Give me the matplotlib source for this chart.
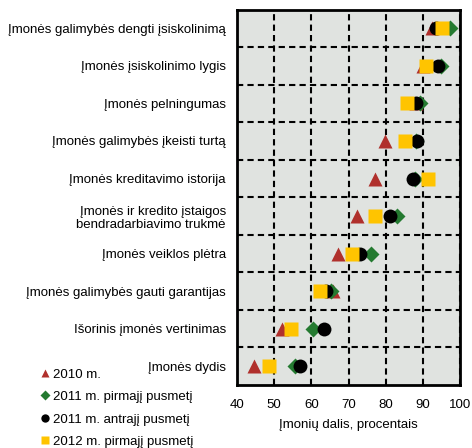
import numpy as np
import matplotlib
matplotlib.use('Agg')
import matplotlib.pyplot as plt

plt.rcParams['font.family'] = ['Liberation Sans', 'DejaVu Sans']

categories = [
    "Įmonės galimybės dengti įsiskolinimą",
    "Įmonės įsiskolinimo lygis",
    "Įmonės pelningumas",
    "Įmonės galimybės įkeisti turtą",
    "Įmonės kreditavimo istorija",
    "Įmonės ir kredito įstaigos\nbendradarbiavimo trukmė",
    "Įmonės veiklos plėtra",
    "Įmonės galimybės gauti garantijas",
    "Išorinis įmonės vertinimas",
    "Įmonės dydis",
]

y2010 = [92.5, 90.0, 88.0, 79.9, 77.1, 72.2, 67.2, 65.7, 52.1, 44.5]
y2011_h1 = [97.3, 94.8, 89.1, 88.0, 87.8, 83.1, 76.0, 65.4, 60.5, 55.7]
y2011_h2 = [93.5, 93.9, 88.1, 88.3, 87.2, 81.0, 73.1, 64.0, 63.3, 57.0]
y2012_h1 = [95.1, 90.8, 85.7, 85.1, 91.3, 77.0, 70.9, 62.4, 54.4, 48.7]

series_labels = ["2010 m.", "2011 m. pirmajį pusmetį",
                 "2011 m. antrajį pusmetį", "2012 m. pirmajį pusmetį"]

ypos = np.arange(len(categories))

fig = plt.figure(figsize=(4.72, 4.48), dpi=100)
ax = fig.add_axes([0.502, 0.1406, 0.473, 0.838])
ax.set_facecolor('#e0e3e0')

ax.plot(y2010, ypos, '^', color='#b0302c', ms=10, mec='none', label=series_labels[0], zorder=3)
ax.plot(y2011_h1, ypos, 'D', color='#247a30', ms=8, mec='none', label=series_labels[1], zorder=4)
ax.plot(y2011_h2, ypos, 'o', color='black', ms=10, mec='none', label=series_labels[2], zorder=5)
ax.plot(y2012_h1, ypos, 's', color='#ffc400', ms=10, mec='none', label=series_labels[3], zorder=6)

ax.set_xlim(40, 100)
ax.set_ylim(len(categories) - 0.5, -0.5)
ax.set_xticks(np.arange(40, 101, 10))
ax.set_yticks(ypos)
ax.set_yticklabels(categories)
ax.set_yticks(np.arange(0.5, len(categories) - 1, 1), minor=True)
ax.tick_params(axis='both', length=0, labelsize=9.5)
ax.tick_params(axis='y', pad=8)
ax.tick_params(axis='x', pad=10)
ax.tick_params(which='minor', length=0)
ax.grid(True, axis='x', which='major', color='black', linestyle=(0, (3, 2)), linewidth=1.5)
ax.grid(True, axis='y', which='minor', color='black', linestyle=(0, (3, 2)), linewidth=1.5)
ax.grid(False, axis='y', which='major')
ax.set_axisbelow(True)
for s in ax.spines.values():
    s.set_linewidth(2)
ax.set_xlabel("Įmonių dalis, procentais", fontsize=9.5, labelpad=6)

fig.legend(loc='lower left', bbox_to_anchor=(0.075, -0.012), frameon=False,
           fontsize=9.5, markerscale=0.6, handlelength=0.6, handletextpad=0.3,
           labelspacing=0.78, borderaxespad=0)

fig.savefig('out.png', dpi=100)
